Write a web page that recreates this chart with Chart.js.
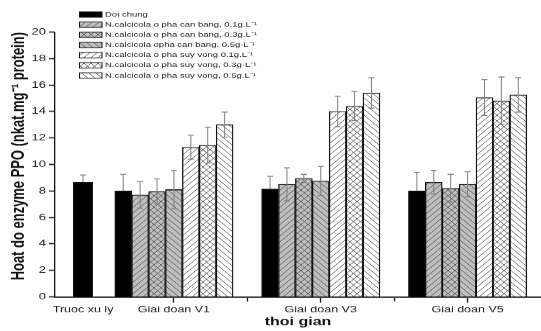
<!DOCTYPE html>
<html>
<head>
<meta charset="utf-8">
<script src="https://cdn.jsdelivr.net/npm/chart.js@4.4.1/dist/chart.umd.min.js"></script>
<style>
  html, body { margin: 0; padding: 0; background: #fff; overflow: hidden; }
  /* the reference is squashed vertically, so draw tall and scale down */
  #wrap { width: 541px; height: 460px; transform: scaleY(0.7196); transform-origin: 0 0; }
</style>
</head>
<body>
<div id="wrap"><canvas id="ppoChart"></canvas></div>
<script>
// categories on the x axis
const categories = ['Truoc xu ly', 'Giai doan V1', 'Giai doan V3', 'Giai doan V5'];

// control: first value is "Truoc xu ly", then V1, V3, V5
const doiChung    = [8.65, 8.0, 8.15, 8.0];
const doiChungErr = [0.55, 1.25, 0.95, 1.4];

// treatments: V1, V3, V5
const canBang01    = [7.7, 8.5, 8.65];
const canBang01Err = [1.0, 1.25, 0.9];
const canBang03    = [7.95, 8.95, 8.2];
const canBang03Err = [0.95, 0.3, 1.05];
const canBang05    = [8.1, 8.75, 8.5];
const canBang05Err = [1.45, 1.1, 0.95];
const suyVong01    = [11.3, 14.0, 15.05];
const suyVong01Err = [0.9, 1.15, 1.35];
const suyVong03    = [11.45, 14.4, 14.8];
const suyVong03Err = [1.35, 1.1, 1.8];
const suyVong05    = [13.0, 15.4, 15.25];
const suyVong05Err = [0.95, 1.15, 1.3];

const yTicks = [0, 2, 4, 6, 8, 10, 12, 14, 16, 18, 20];

// where each category sits on the numeric x axis
const xPos = [0.381, 1, 2, 3];
const xTickPos = [xPos[0], 1, 1.5, 2, 2.5, 3];
const xTickText = [categories[0], categories[1], '', categories[2], '', categories[3]];

const FONT = '"Liberation Sans", Arial, sans-serif';
Chart.defaults.font.family = FONT;
Chart.defaults.color = '#1a1a1a';

function hatch(bg, kind) {
  const w = 7, h = 8;
  const c = document.createElement('canvas');
  c.width = w; c.height = h;
  const g = c.getContext('2d');
  g.fillStyle = bg;
  g.fillRect(0, 0, w, h);
  g.strokeStyle = '#4a4a4a';
  g.lineWidth = 0.8;
  g.beginPath();
  for (let k = -1; k <= 1; k++) {
    if (kind !== '\\') { g.moveTo(k * w, h); g.lineTo(k * w + w, 0); }
    if (kind !== '/') { g.moveTo(k * w, 0); g.lineTo(k * w + w, h); }
  }
  g.stroke();
  return g.createPattern(c, 'repeat');
}

const GRAY = '#bfbfbf';
const pts = (vals) => vals.map((v, i) => ({ x: xPos[i + 1], y: v }));

function series(label, vals, errs, fill) {
  return {
    label, data: pts(vals), errors: errs, inLegend: true,
    backgroundColor: fill, borderColor: '#111', borderWidth: 1.3,
    barThickness: 16.9, grouped: true
  };
}

const datasets = [
  {
    label: 'Doi chung (truoc xu ly)', data: [{ x: xPos[0], y: doiChung[0] }],
    errors: [doiChungErr[0]], solid: true, inLegend: false,
    backgroundColor: '#000', borderColor: '#111', borderWidth: 1.3,
    barThickness: 19.4, grouped: false
  },
  Object.assign(series('Doi chung', doiChung.slice(1), doiChungErr.slice(1), '#000'), { solid: true }),
  series('N.calcicola o pha can bang, 0.1g.L\u207B\u00B9', canBang01, canBang01Err, hatch(GRAY, '/')),
  series('N.calcicola o pha can bang, 0.3g.L\u207B\u00B9', canBang03, canBang03Err, hatch(GRAY, 'x')),
  series('N.calcicola opha can bang, 0.5g\u00B7L\u207B\u00B9', canBang05, canBang05Err, hatch(GRAY, '\\')),
  series('N.calcicola o pha suy vong 0.1g.L\u207B\u00B9', suyVong01, suyVong01Err, hatch('#fff', '/')),
  series('N.calcicola o pha suy vong, 0.3g\u00B7L\u207B\u00B9', suyVong03, suyVong03Err, hatch('#fff', 'x')),
  series('N.calcicola o pha suy vong, 0.5g.L\u207B\u00B9', suyVong05, suyVong05Err, hatch('#fff', '\\'))
];

// error bars on top of the bars
const errorBars = {
  id: 'errorBars',
  afterDatasetsDraw(chart) {
    const ctx = chart.ctx;
    const yScale = chart.scales.y;
    ctx.save();
    ctx.strokeStyle = '#808080';
    chart.data.datasets.forEach((ds, di) => {
      const meta = chart.getDatasetMeta(di);
      meta.data.forEach((bar, i) => {
        const v = ds.data[i].y, e = ds.errors[i];
        const top = yScale.getPixelForValue(v + e);
        const bot = ds.solid ? yScale.getPixelForValue(v) : yScale.getPixelForValue(v - e);
        ctx.lineWidth = 1;
        ctx.beginPath();
        ctx.moveTo(bar.x, top); ctx.lineTo(bar.x, bot);
        ctx.stroke();
        ctx.lineWidth = 1.3;
        ctx.beginPath();
        ctx.moveTo(bar.x - 3, top); ctx.lineTo(bar.x + 3, top);
        if (!ds.solid) { ctx.moveTo(bar.x - 3, bot); ctx.lineTo(bar.x + 3, bot); }
        ctx.stroke();
      });
    });
    ctx.restore();
  }
};

// legend drawn in the top left corner, above the plot
const boxLegend = {
  id: 'boxLegend',
  afterDraw(chart) {
    const ctx = chart.ctx;
    ctx.save();
    chart.data.datasets.filter(d => d.inLegend).forEach((ds, i) => {
      const y = 16.3 + i * 14.13;
      ctx.fillStyle = ds.backgroundColor;
      ctx.fillRect(79, y, 23, 7.7);
      ctx.lineWidth = 1;
      ctx.strokeStyle = '#111';
      ctx.strokeRect(79.5, y, 22.5, 7.7);
      ctx.fillStyle = '#1a1a1a';
      ctx.font = '9.5px ' + FONT;
      ctx.textBaseline = 'middle';
      ctx.fillText(ds.label, 105, y + 3.9);
    });
    ctx.restore();
  }
};

new Chart(document.getElementById('ppoChart'), {
  type: 'bar',
  data: { datasets },
  plugins: [errorBars, boxLegend],
  options: {
    responsive: true,
    maintainAspectRatio: false,
    animation: false,
    layout: { padding: { top: 44.4, right: 0, left: 0, bottom: 0 } },
    plugins: { legend: { display: false }, tooltip: { enabled: false } },
    scales: {
      x: {
        type: 'linear', min: 0.19, max: 3.5, offset: false,
        afterBuildTicks: (s) => { s.ticks = xTickPos.map(v => ({ value: v })); },
        afterFit: (s) => { s.height = 47.5; },
        border: { color: '#111', width: 1.8 },
        grid: {
          offset: false, drawOnChartArea: false, tickLength: 8, tickWidth: 1.3,
          tickColor: (c) => c.index === 0 ? 'rgba(0,0,0,0)' : '#111',
          tickBorderDash: (c) => xTickText[c.index] === '' ? [5, 20] : []
        },
        ticks: {
          autoSkip: false, maxRotation: 0, padding: 3,
          font: { size: 12.5 }, color: '#1a1a1a',
          callback: (v, i) => xTickText[i]
        },
        title: {
          display: true, text: 'thoi gian', color: '#111',
          font: { size: 16, weight: 'bold' }, padding: { top: 0, bottom: 3 }
        }
      },
      y: {
        min: 0, max: 20,
        afterBuildTicks: (s) => {
          const t = [];
          for (let v = yTicks[0]; v <= yTicks[yTicks.length - 1]; v++) t.push({ value: v });
          s.ticks = t;
        },
        afterFit: (s) => { s.width = 55; },
        border: { color: '#111', width: 1.3 },
        grid: {
          drawOnChartArea: false, tickLength: 6, tickWidth: 1.6, tickColor: '#111',
          tickBorderDash: (c) => yTicks.includes(c.tick.value) ? [] : [3, 3],
          tickBorderDashOffset: (c) => yTicks.includes(c.tick.value) ? 0 : 3
        },
        ticks: {
          padding: 3, font: { size: 13 }, color: '#1a1a1a',
          callback: (v) => yTicks.includes(v) ? String(v) : ''
        },
        title: {
          display: true, align: 'end', color: '#111',
          text: 'Hoat do enzyme PPO (nkat.mg\u207B\u00B9 protein)',
          font: { size: 18, weight: 'bold' }, padding: { top: 8, bottom: 0 }
        }
      }
    }
  }
});
</script>
</body>
</html>
